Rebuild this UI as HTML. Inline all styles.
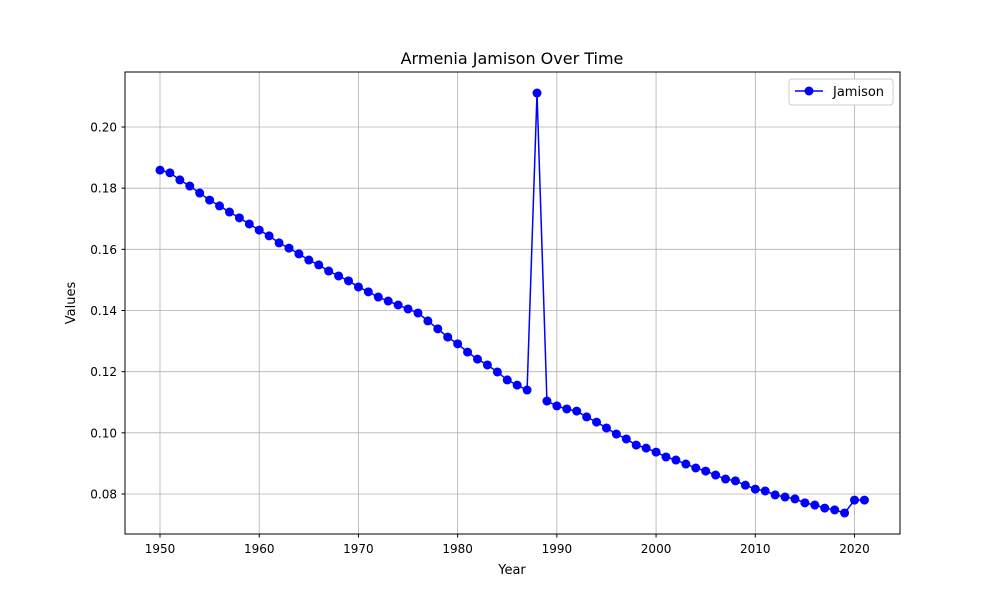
<!DOCTYPE html>
<html><head><meta charset="utf-8"><style>
body{margin:0;background:#fff;}
svg text{font-family:"DejaVu Sans","Liberation Sans",sans-serif;fill:#000;}
</style></head><body>
<svg id="chart" width="1000" height="600" xmlns="http://www.w3.org/2000/svg">
<rect width="1000" height="600" fill="#fff"/>
<g id="grid"></g>
<g id="axes"></g>
<g id="series"></g>
<rect x="125" y="72" width="775" height="462" fill="none" stroke="#000" stroke-width="1"/>
<text x="512" y="64" font-size="16" text-anchor="middle">Armenia Jamison Over Time</text>
<text x="512" y="574" font-size="13" text-anchor="middle">Year</text>
<text x="75" y="303" font-size="13" text-anchor="middle" transform="rotate(-90 75 303)">Values</text>
<g>
<rect x="789" y="79" width="104" height="26" rx="3" fill="#fff" stroke="#ccc"/>
<line x1="795" y1="91" x2="823" y2="91" stroke="#0000ff" stroke-width="1.5"/>
<circle cx="809" cy="91" r="4.5" fill="#0000ff"/>
<text x="833" y="96" font-size="13">Jamison</text>
</g>
</svg>
<script>
const years=[];for(let y=1950;y<=2021;y++)years.push(y);
const values=[0.1859,0.1850,0.1827,0.1807,0.1784,0.1761,0.1742,0.1722,0.1703,0.1683,
0.1663,0.1644,0.1621,0.1604,0.1585,0.1565,0.1549,0.1529,0.1513,0.1497,
0.1477,0.1461,0.1444,0.1431,0.1418,0.1405,0.1392,0.1366,0.1340,0.1313,
0.1291,0.1264,0.1241,0.1222,0.1199,0.1173,0.1156,0.1140,0.2111,0.1104,
0.1088,0.1078,0.1071,0.1052,0.1035,0.1016,0.0996,0.0980,0.0960,0.0950,
0.0937,0.0921,0.0911,0.0898,0.0885,0.0875,0.0862,0.0849,0.0843,0.0829,
0.0816,0.0810,0.0797,0.0790,0.0784,0.0771,0.0764,0.0754,0.0748,0.0738,
0.0780,0.0780];
const xTicks=[1950,1960,1970,1980,1990,2000,2010,2020];
const yTicks=[0.08,0.10,0.12,0.14,0.16,0.18,0.20];
const NS="http://www.w3.org/2000/svg";
function xs(v){return 160+(v-1950)*(694.5/70);}
function ys(v){return 494-(v-0.08)*(367/0.12);}
function mk(t,a,p){const e=document.createElementNS(NS,t);for(const k in a)e.setAttribute(k,a[k]);p.appendChild(e);return e;}
const grid=document.getElementById('grid'),axes=document.getElementById('axes'),ser=document.getElementById('series');
xTicks.forEach(t=>{const x=xs(t);
const g=mk('line',{x1:x,x2:x,y1:72,y2:534,stroke:'#b0b0b0','stroke-width':0.8},grid);


const k=mk('line',{x1:x,x2:x,y1:534,y2:537.5,stroke:'#000'},axes);


const l=mk('text',{x:x,y:553,'font-size':12,'text-anchor':'middle'},axes);l.textContent=t;

});
yTicks.forEach(t=>{const y=ys(t);
const g=mk('line',{x1:125,x2:900,y1:y,y2:y,stroke:'#b0b0b0','stroke-width':0.8},grid);


const k=mk('line',{x1:121.5,x2:125,y1:y,y2:y,stroke:'#000'},axes);


const l=mk('text',{x:117,y:y+4.5,'font-size':12,'text-anchor':'end'},axes);l.textContent=t.toFixed(2);

});
const pl=mk('polyline',{points:years.map((y,i)=>xs(y)+','+ys(values[i])).join(' '),fill:'none',stroke:'#0000ff','stroke-width':1.5},ser);


years.forEach((y,i)=>{const c=mk('circle',{cx:xs(y),cy:ys(values[i]),r:4.5,fill:'#0000ff'},ser);

});
</script>
</body></html>
